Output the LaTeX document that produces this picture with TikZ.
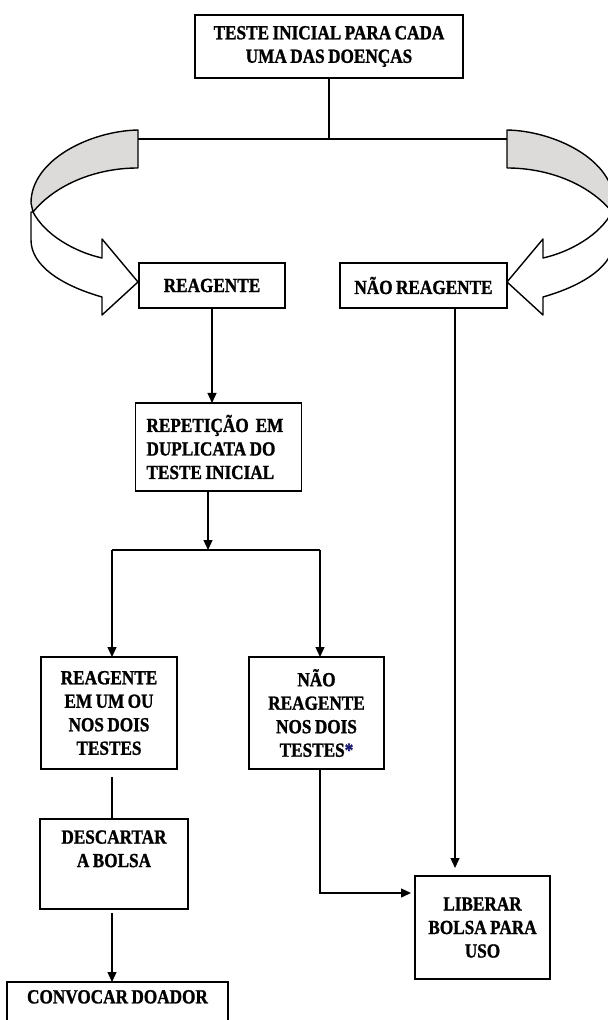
\documentclass[tikz,border=0pt]{standalone}
\usepackage{fontspec}
\newfontfamily\flowfont{Liberation Serif}[FakeStretch=0.86, WordSpace=0.8, BoldFeatures={FakeBold=1.2}]
\usetikzlibrary{arrows.meta}
\definecolor{bandgray}{RGB}{221,219,217}
\definecolor{starblue}{RGB}{25,25,112}

\begin{document}
\begin{tikzpicture}[x=0.5pt, y=-0.5pt,
    box/.style={draw, line width=0.85pt, inner sep=0pt, outer sep=0pt, align=center,
        font=\flowfont\bfseries\fontsize{10}{11.75}\selectfont},
    link/.style={line width=0.65pt},
    flow/.style={link, -{Triangle[length=5pt, width=4.5pt]}},
    band/.style={draw, line width=0.7pt, line join=round}]
        \useasboundingbox (0,0) rectangle (608,1020);

        % Boxes
        \node[box, minimum width=134pt, minimum height=31.5pt] (teste) at (329,46.5) {TESTE INICIAL PARA CADA\\UMA DAS DOENÇAS};
        \node[box, minimum width=73pt, minimum height=22.5pt] (reag) at (212,285.5) {REAGENTE};
        \node[box, minimum width=83.5pt, minimum height=22.5pt] (naoreag) at (423.5,285.5) {NÃO REAGENTE};
        \node[box, align=flush left, text width=72pt, inner xsep=5.5pt, minimum height=44pt] (repet) at (218.5,447) {REPETIÇÃO\ \ EM\\DUPLICATA DO\\TESTE INICIAL};
        \node[box, minimum width=68pt, minimum height=56pt] (reag2) at (109,713) {REAGENTE\\EM UM OU\\NOS DOIS\\TESTES};
        \node[box, minimum width=67.5pt, minimum height=56pt] (naoreag2) at (316.5,713) {NÃO\\REAGENTE\\NOS DOIS\\TESTES\textcolor{starblue}{*}};
        \node[box, minimum width=74pt, minimum height=45pt] (descarte) at (114,864) {DESCARTAR\\A BOLSA\\\strut};
        \node[box, minimum width=67.5pt, minimum height=51.5pt] (liberar) at (482.5,927.5) {LIBERAR\\BOLSA PARA\\USO};
        \node[box, minimum width=110.5pt, minimum height=30pt] (convocar) at (117.5,1012) {CONVOCAR DOADOR\\\strut};

        % Split under the initial test
        \coordinate (split) at (teste.south |- 0,139);
        \coordinate (lband) at (138,139);
        \coordinate (rband) at (507,139);
        \draw[link] (teste.south) -- (split);
        \draw[link] (lband) -- (rband);

        % Curved arrows (left one, then its mirror)
        \foreach \s/\d in {1/0,-1/645} {
            \begin{scope}[xshift=\d*0.5pt, xscale=\s]
                \filldraw[band, fill=bandgray] (138,130) .. controls (90,131) and (31,160) .. (31,203)
                    -- (33,212) .. controls (55,185) and (95,168) .. (138,168) -- cycle;
                \filldraw[band, fill=white] (33,212) .. controls (45,235) and (75,252) .. (102,258)
                    -- (102,239) -- (138,282) -- (102,315) -- (102,297)
                    .. controls (60,285) and (31,265) .. (31,240) -- (31,212) -- cycle;
            \end{scope}
        }

        % Reagente: repeat the test
        \draw[flow] (reag.south) -- (reag.south |- repet.north);
        \coordinate (fork) at (208,550);
        \coordinate (forkl) at (112,550);
        \coordinate (forkr) at (320,550);
        \draw[flow] (fork |- repet.south) -- (fork);
        \draw[link] (forkl) -- (forkr);
        \draw[flow] (forkl) -- (forkl |- reag2.north);
        \draw[flow] (forkr) -- (forkr |- naoreag2.north);

        % Left branch: discard and call donor
        \draw[link] ([yshift=-4pt]forkl |- reag2.south) -- (forkl |- descarte.north);
        \draw[flow] ([yshift=-2pt]forkl |- descarte.south) -- (forkl |- convocar.north);

        % Right branches: release the bag
        \coordinate (bend) at (320,893);
        \draw[flow, shorten >=2pt] (bend |- naoreag2.south) -- (bend) -- (bend -| liberar.west);
        \coordinate (drop) at (455,308);
        \draw[flow, shorten >=4pt] (drop) -- (drop |- liberar.north);
    \end{tikzpicture}
\end{document}
